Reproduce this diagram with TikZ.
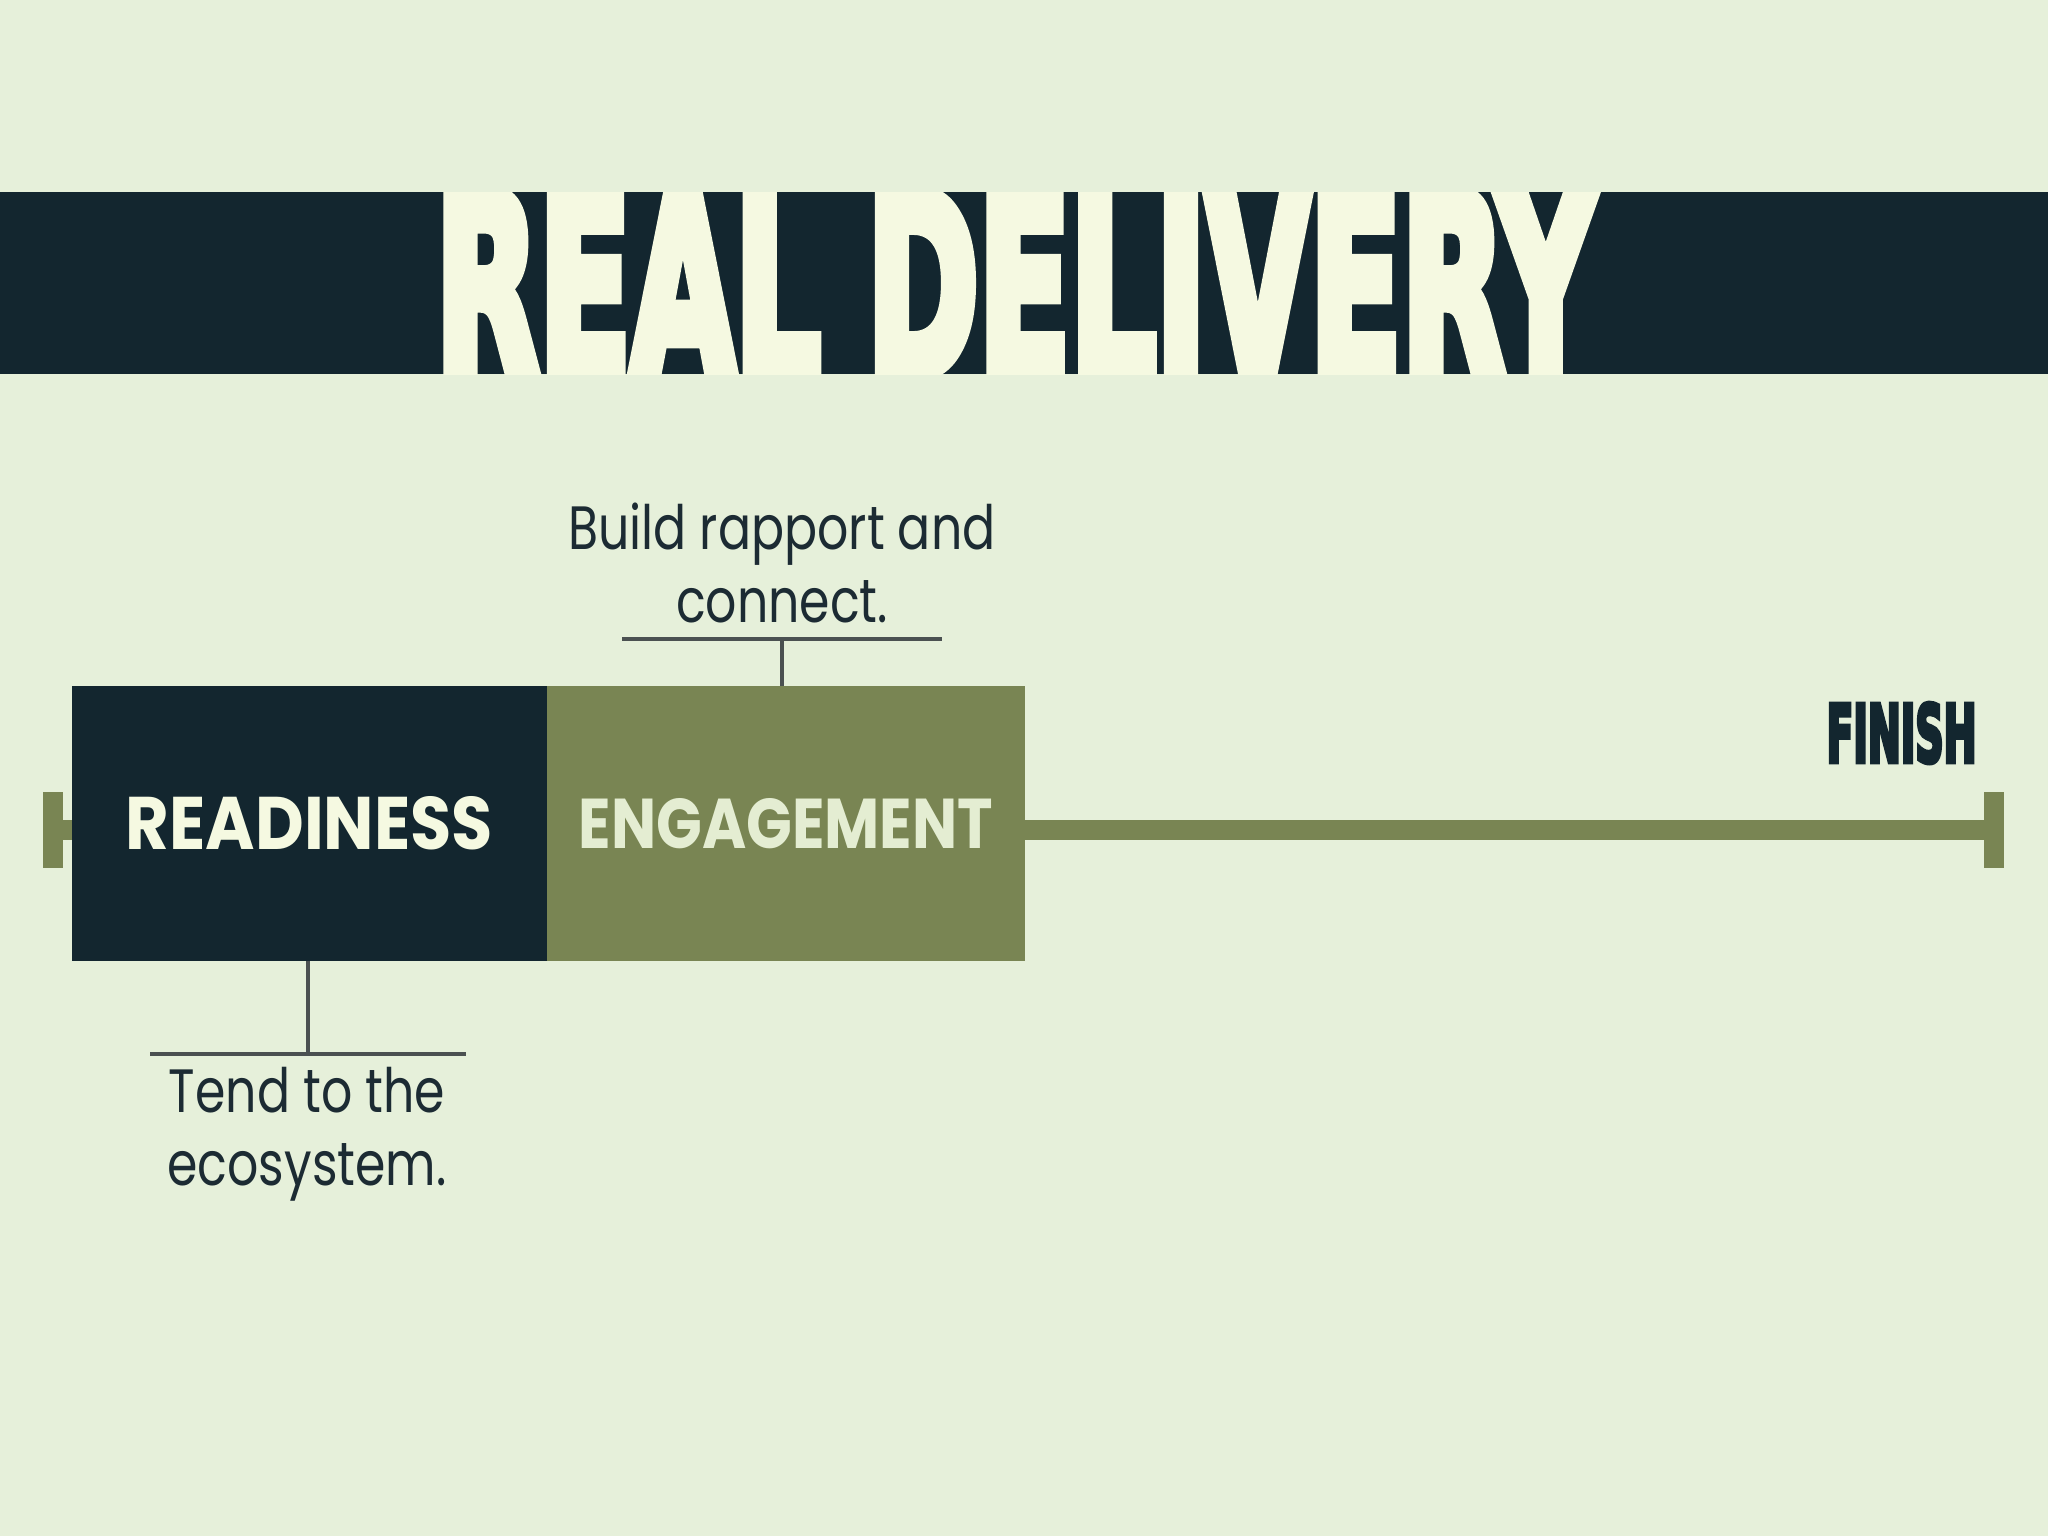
\documentclass[tikz,border=0pt]{standalone}
\usepackage{fontspec}
\usepackage{graphicx}
\setmainfont{Poppins}
\newfontfamily\titlefont{DejaVu Sans Condensed Bold}[FakeBold=6]
\newfontfamily\labelfont{Poppins}
\newfontfamily\annotfont{Poppins}[FakeStretch=0.8]
\definecolor{bg}{HTML}{E6F0DA}
\definecolor{navy}{HTML}{13262F}
\definecolor{olive}{HTML}{798553}
\definecolor{cream}{HTML}{F5F9E1}
\definecolor{engtext}{HTML}{E4EDD2}
\definecolor{brk}{HTML}{4B5151}
\definecolor{ink}{HTML}{1C2B33}
\tikzset{
  stage/.style={minimum height=2.75cm, inner sep=0pt, outer sep=0pt},
  capbar/.style={fill=olive, minimum width=0.2cm, minimum height=0.76cm, inner sep=0pt, outer sep=0pt},
  annot/.style={align=center, text=ink, font=\annotfont\fontsize{17.4}{20.8}\selectfont, inner sep=0pt},
  bracket/.style={draw=brk, line width=0.04cm},
}
\begin{document}
\begin{tikzpicture}[x=0.01cm,y=-0.01cm]
\fill[bg] (0,0) rectangle (2048,1536);
\useasboundingbox (0,0) rectangle (2048,1536);
% title bar
\fill[navy] (0,192) rectangle (2048,374);
\begin{scope}
\clip (0,192) rectangle (2048,374);
\node[inner sep=0pt, text=cream] (title) at (1015,283) {\resizebox{11.58cm}{1.82cm}{\titlefont REAL DELIVERY}};
\end{scope}
% timeline
\node[capbar] (startcap) at (53,830) {};
\node[capbar] (endcap) at (1994,830) {};
\draw[olive, line width=0.2cm] (startcap.center) -- (endcap.center);
\node[inner sep=0pt, text=navy] (finish) at (1901.5,733) {\resizebox{1.50cm}{0.59cm}{\titlefont FINISH}};
% stages
\node[stage, fill=navy, minimum width=4.75cm] (ready) at (309.5,823.5) {\color{cream}\resizebox{3.67cm}{0.53cm}{\labelfont\bfseries READINESS}};
\node[stage, fill=olive, minimum width=4.78cm] (eng) at (786,823.5) {\color{engtext}\resizebox{4.14cm}{0.50cm}{\labelfont\bfseries ENGAGEMENT}};
% annotations
\node[annot] (up) at (782,563) {Build rapport and\\connect.};
\node[annot] (down) at (307,1134) {Tend to the\\ecosystem.};
\coordinate (ul) at (622,639);
\coordinate (ur) at (942,639);
\coordinate (um) at (782,639);
\draw[bracket] (ul) -- (ur);
\draw[bracket] (um) -- (um |- eng.north);
\coordinate (ll) at (150,1054);
\coordinate (lr) at (466,1054);
\coordinate (lm) at (308,1054);
\draw[bracket] (ll) -- (lr);
\draw[bracket] (ready.south -| lm) -- (lm);
\end{tikzpicture}
\end{document}
